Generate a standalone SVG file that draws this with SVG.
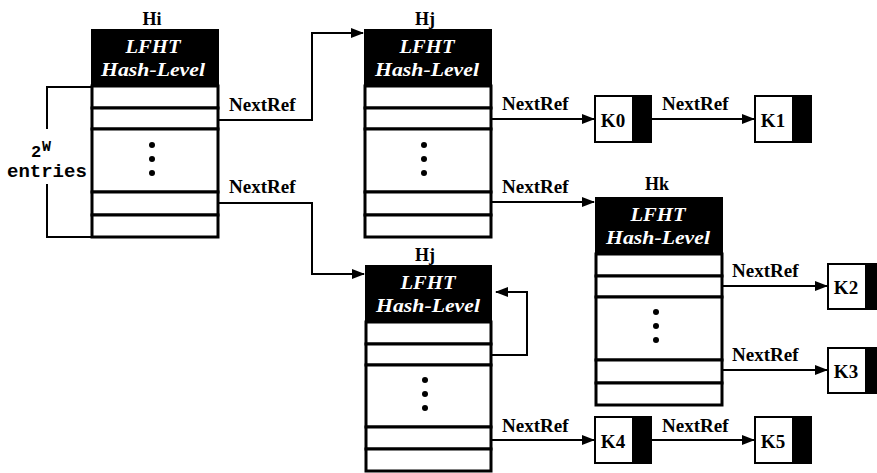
<svg xmlns="http://www.w3.org/2000/svg" width="877" height="473" viewBox="0 0 877 473">
<style>
  .hdr { fill: #000; }
  .cell { fill: #fff; stroke: #000; stroke-width: 3; }
  .ttl { font-family: "Liberation Serif", serif; font-weight: bold; font-style: italic; font-size: 19px; fill: #fff; text-anchor: middle; }
  .name { font-family: "Liberation Serif", serif; font-weight: bold; font-size: 18px; fill: #000; text-anchor: middle; }
  .lbl { font-family: "Liberation Serif", serif; font-weight: bold; font-size: 19px; fill: #000; }
  .klbl { font-family: "Liberation Serif", serif; font-weight: bold; font-size: 19px; fill: #000; text-anchor: middle; }
  .mono { font-family: "Liberation Mono", monospace; font-weight: bold; fill: #000; }
  .conn { fill: none; stroke: #000; stroke-width: 2; }
  .kw { fill: #fff; stroke: #000; stroke-width: 2; }
  .kb { fill: #000; }
</style>
<defs>
  <marker id="arr" markerWidth="13" markerHeight="10" refX="12" refY="5" orient="auto" markerUnits="userSpaceOnUse">
    <path d="M0,0 L13,5 L0,10 Z" fill="#000"/>
  </marker>
</defs>

<!-- Hi -->
<g id="Hi">
  <text class="name" x="152" y="25">Hi</text>
  <rect class="hdr" x="91" y="29" width="128" height="58"/>
  <text class="ttl" x="153" y="53" textLength="55" lengthAdjust="spacingAndGlyphs">LFHT</text>
  <text class="ttl" x="153" y="76" textLength="104" lengthAdjust="spacingAndGlyphs">Hash-Level</text>
  <rect class="cell" x="92" y="86" width="126" height="22"/>
  <rect class="cell" x="92" y="108" width="126" height="21"/>
  <rect class="cell" x="92" y="129" width="126" height="63"/>
  <rect class="cell" x="92" y="192" width="126" height="23"/>
  <rect class="cell" x="92" y="215" width="126" height="22"/>
  <circle cx="152" cy="145" r="3"/>
  <circle cx="152" cy="159" r="3"/>
  <circle cx="152" cy="173" r="3"/>
</g>

<!-- bracket -->
<g id="entries">
  <path class="conn" d="M92,87 H47 V129"/>
  <path class="conn" d="M47,184 V237 H92"/>
  <text class="mono" x="31" y="157" font-size="17px">2</text>
  <text class="mono" x="42" y="151" font-size="15px">W</text>
  <text class="mono" x="7" y="177" font-size="19px">entries</text>
</g>

<!-- Hj top -->
<g id="Hj1">
  <text class="name" x="425" y="25">Hj</text>
  <rect class="hdr" x="364" y="29" width="128" height="58"/>
  <text class="ttl" x="427" y="53" textLength="55" lengthAdjust="spacingAndGlyphs">LFHT</text>
  <text class="ttl" x="427" y="76" textLength="104" lengthAdjust="spacingAndGlyphs">Hash-Level</text>
  <rect class="cell" x="365" y="86" width="126" height="22"/>
  <rect class="cell" x="365" y="108" width="126" height="21"/>
  <rect class="cell" x="365" y="129" width="126" height="63"/>
  <rect class="cell" x="365" y="192" width="126" height="23"/>
  <rect class="cell" x="365" y="215" width="126" height="22"/>
  <circle cx="424" cy="145" r="3"/>
  <circle cx="424" cy="159" r="3"/>
  <circle cx="424" cy="173" r="3"/>
</g>

<!-- Hj bottom -->
<g id="Hj2">
  <text class="name" x="425" y="261">Hj</text>
  <rect class="hdr" x="365" y="265" width="127" height="58"/>
  <text class="ttl" x="428" y="289" textLength="55" lengthAdjust="spacingAndGlyphs">LFHT</text>
  <text class="ttl" x="428" y="312" textLength="104" lengthAdjust="spacingAndGlyphs">Hash-Level</text>
  <rect class="cell" x="366" y="322" width="125" height="22"/>
  <rect class="cell" x="366" y="344" width="125" height="21"/>
  <rect class="cell" x="366" y="365" width="125" height="62"/>
  <rect class="cell" x="366" y="427" width="125" height="22"/>
  <rect class="cell" x="366" y="449" width="125" height="22"/>
  <circle cx="425" cy="380" r="3"/>
  <circle cx="425" cy="394" r="3"/>
  <circle cx="425" cy="408" r="3"/>
</g>

<!-- Hk -->
<g id="Hk">
  <text class="name" x="657" y="190">Hk</text>
  <rect class="hdr" x="595" y="197" width="128" height="58"/>
  <text class="ttl" x="658" y="221" textLength="55" lengthAdjust="spacingAndGlyphs">LFHT</text>
  <text class="ttl" x="658" y="244" textLength="104" lengthAdjust="spacingAndGlyphs">Hash-Level</text>
  <rect class="cell" x="596" y="254" width="126" height="22"/>
  <rect class="cell" x="596" y="276" width="126" height="21"/>
  <rect class="cell" x="596" y="297" width="126" height="63"/>
  <rect class="cell" x="596" y="360" width="126" height="23"/>
  <rect class="cell" x="596" y="383" width="126" height="22"/>
  <circle cx="656" cy="312" r="3"/>
  <circle cx="656" cy="326" r="3"/>
  <circle cx="656" cy="340" r="3"/>
</g>

<!-- K nodes -->
<g id="K0">
  <rect class="kw" x="595" y="96" width="56" height="46"/>
  <rect class="kb" x="632" y="95" width="20" height="48"/>
  <text class="klbl" x="613" y="127">K0</text>
</g>
<g id="K1">
  <rect class="kw" x="755" y="96" width="56" height="46"/>
  <rect class="kb" x="792" y="95" width="20" height="48"/>
  <text class="klbl" x="773" y="127">K1</text>
</g>
<g id="K2">
  <rect class="kw" x="828" y="264" width="56" height="45"/>
  <rect class="kb" x="865" y="263" width="20" height="47"/>
  <text class="klbl" x="846" y="294">K2</text>
</g>
<g id="K3">
  <rect class="kw" x="828" y="348" width="56" height="45"/>
  <rect class="kb" x="865" y="347" width="20" height="47"/>
  <text class="klbl" x="846" y="378">K3</text>
</g>
<g id="K4">
  <rect class="kw" x="595" y="417" width="56" height="46"/>
  <rect class="kb" x="632" y="416" width="20" height="48"/>
  <text class="klbl" x="613" y="448">K4</text>
</g>
<g id="K5">
  <rect class="kw" x="755" y="417" width="56" height="46"/>
  <rect class="kb" x="792" y="416" width="20" height="48"/>
  <text class="klbl" x="773" y="448">K5</text>
</g>

<!-- connectors -->
<g id="connectors">
  <path class="conn" d="M218,120 H312 V33 H363" marker-end="url(#arr)"/>
  <path class="conn" d="M218,203 H312 V274 H364" marker-end="url(#arr)"/>
  <path class="conn" d="M491,119 H594" marker-end="url(#arr)"/>
  <path class="conn" d="M652,119 H754" marker-end="url(#arr)"/>
  <path class="conn" d="M491,202 H594" marker-end="url(#arr)"/>
  <path class="conn" d="M491,355 H527 V292 H496" marker-end="url(#arr)"/>
  <path class="conn" d="M491,440 H594" marker-end="url(#arr)"/>
  <path class="conn" d="M652,440 H754" marker-end="url(#arr)"/>
  <path class="conn" d="M722,286 H827" marker-end="url(#arr)"/>
  <path class="conn" d="M722,370 H827" marker-end="url(#arr)"/>
  <text class="lbl" x="229" y="111">NextRef</text>
  <text class="lbl" x="229" y="193">NextRef</text>
  <text class="lbl" x="502" y="110">NextRef</text>
  <text class="lbl" x="502" y="193">NextRef</text>
  <text class="lbl" x="662" y="110">NextRef</text>
  <text class="lbl" x="732" y="277">NextRef</text>
  <text class="lbl" x="732" y="361">NextRef</text>
  <text class="lbl" x="502" y="432">NextRef</text>
  <text class="lbl" x="662" y="432">NextRef</text>
</g>
</svg>
